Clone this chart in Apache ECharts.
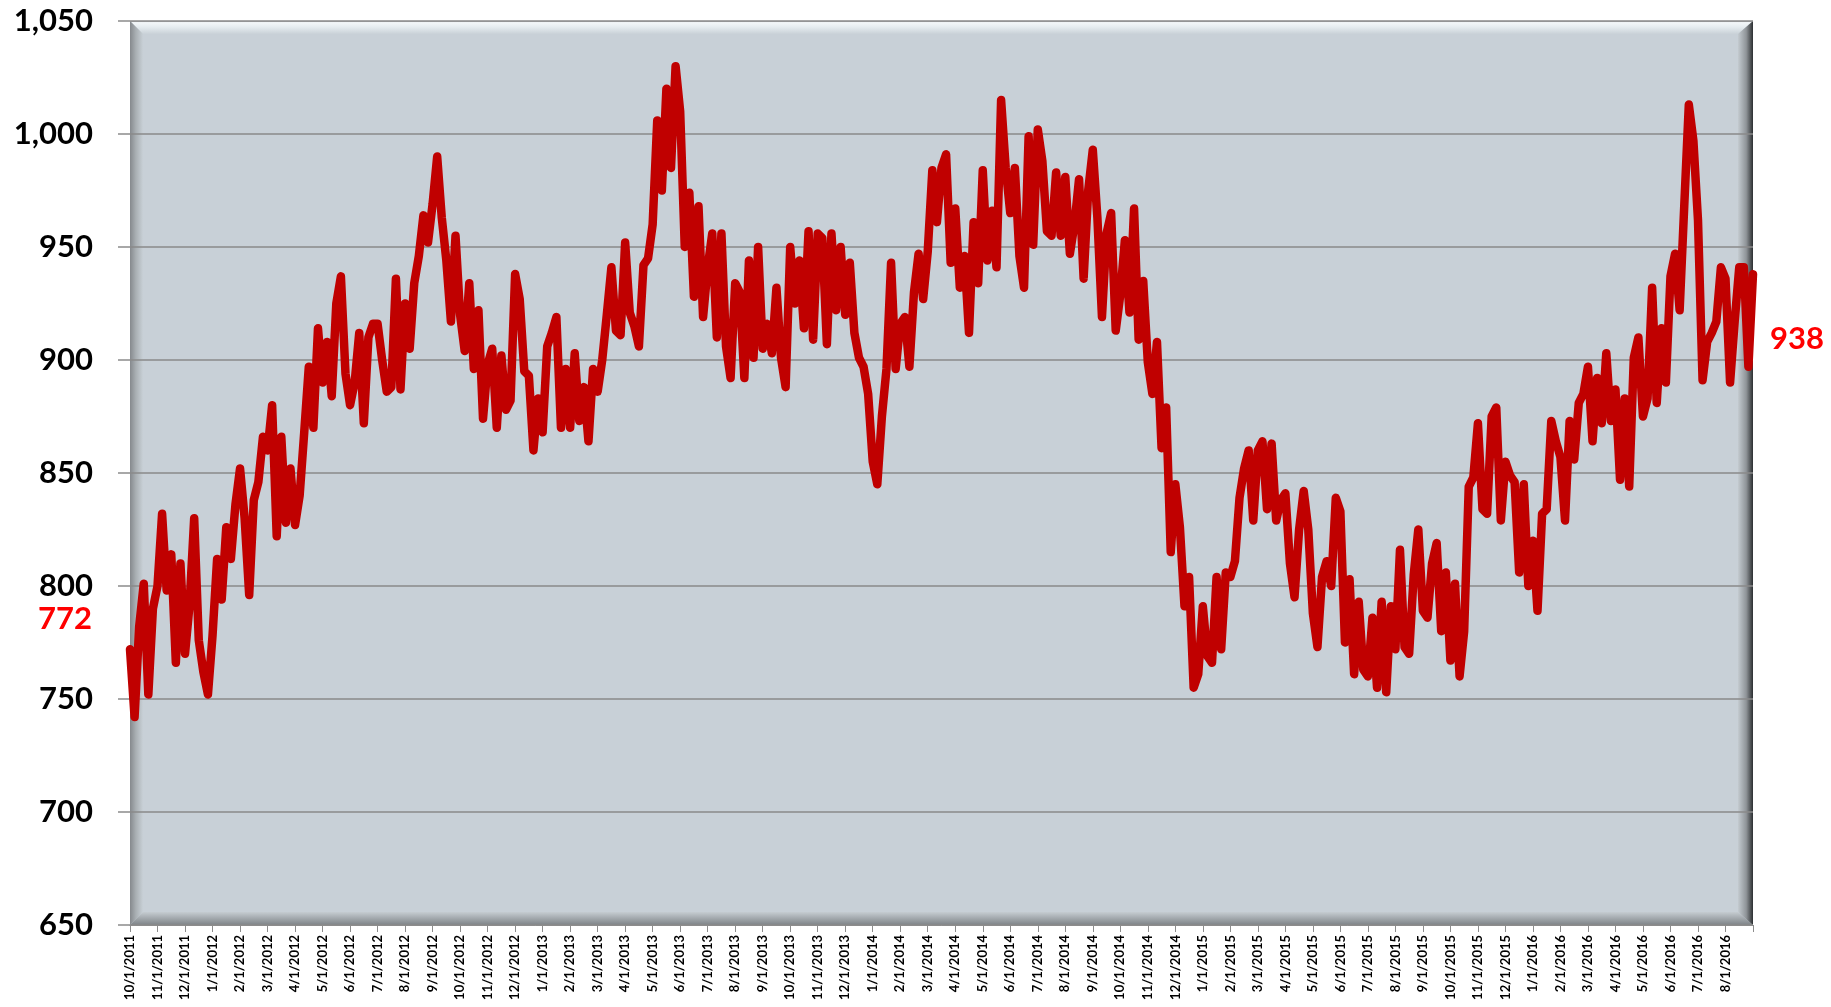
<!DOCTYPE html>
<html>
<head>
<meta charset="utf-8">
<script src="https://cdn.jsdelivr.net/npm/echarts@6/dist/echarts.min.js"></script>
<style>
  html, body { margin: 0; padding: 0; background: #fff; }
  #chart { width: 1831px; height: 1007px; }
</style>
</head>
<body>
<div id="chart"></div>
<script>
  // x axis: one unit per month starting 10/1/2011, 6 readings per month
  var perMonth = 6;

  var monthLabels = [
    '10/1/2011', '11/1/2011', '12/1/2011',
    '1/1/2012', '2/1/2012', '3/1/2012', '4/1/2012', '5/1/2012', '6/1/2012',
    '7/1/2012', '8/1/2012', '9/1/2012', '10/1/2012', '11/1/2012', '12/1/2012',
    '1/1/2013', '2/1/2013', '3/1/2013', '4/1/2013', '5/1/2013', '6/1/2013',
    '7/1/2013', '8/1/2013', '9/1/2013', '10/1/2013', '11/1/2013', '12/1/2013',
    '1/1/2014', '2/1/2014', '3/1/2014', '4/1/2014', '5/1/2014', '6/1/2014',
    '7/1/2014', '8/1/2014', '9/1/2014', '10/1/2014', '11/1/2014', '12/1/2014',
    '1/1/2015', '2/1/2015', '3/1/2015', '4/1/2015', '5/1/2015', '6/1/2015',
    '7/1/2015', '8/1/2015', '9/1/2015', '10/1/2015', '11/1/2015', '12/1/2015',
    '1/1/2016', '2/1/2016', '3/1/2016', '4/1/2016', '5/1/2016', '6/1/2016',
    '7/1/2016', '8/1/2016'
  ];

  // Oct - Dec 2011
  var v2011 = [
    772, 742, 782, 801, 752, 790,
    800, 832, 798, 814, 766, 810,
    770, 792, 830, 776, 762, 752
  ];
  // Jan - Dec 2012
  var v2012 = [
    778, 812, 794, 826, 812, 836,
    852, 830, 796, 838, 846, 866,
    860, 880, 822, 866, 828, 852,
    827, 840, 868, 897, 870, 914,
    890, 908, 884, 925, 937, 894,
    880, 890, 912, 872, 910, 916,
    916, 900, 886, 888, 936, 887,
    925, 905, 934, 946, 964, 952,
    969, 990, 963, 944, 917, 955,
    920, 904, 934, 896, 922, 874,
    898, 905, 870, 902, 878, 882,
    938, 927, 895, 893, 860, 883
  ];
  // Jan - Dec 2013
  var v2013 = [
    868, 906, 912, 919, 870, 896,
    870, 903, 873, 888, 864, 896,
    886, 900, 920, 941, 913, 911,
    952, 921, 915, 906, 942, 945,
    960, 1006, 975, 1020, 985, 1030,
    1010, 950, 974, 928, 968, 919,
    941, 956, 910, 956, 906, 892,
    934, 930, 892, 944, 901, 950,
    905, 916, 903, 932, 901, 888,
    950, 925, 944, 914, 957, 909,
    956, 954, 907, 956, 922, 950,
    920, 943, 912, 901, 897, 885
  ];
  // Jan - Dec 2014
  var v2014 = [
    855, 845, 875, 896, 943, 896,
    916, 919, 897, 930, 947, 927,
    948, 984, 961, 985, 991, 943,
    967, 932, 946, 912, 961, 934,
    984, 944, 966, 941, 1015, 985,
    965, 985, 946, 932, 999, 951,
    1002, 988, 957, 955, 983, 955,
    981, 947, 960, 980, 936, 975,
    993, 963, 919, 956, 965, 913,
    929, 953, 921, 967, 909, 935,
    899, 885, 908, 861, 879, 815,
    845, 826, 791, 804, 755, 761
  ];
  // Jan - Dec 2015
  var v2015 = [
    791, 769, 766, 804, 772, 806,
    804, 811, 839, 852, 860, 829,
    860, 864, 834, 863, 829, 838,
    841, 810, 795, 825, 842, 825,
    788, 773, 804, 811, 800, 839,
    833, 775, 803, 761, 793, 763,
    760, 786, 755, 793, 753, 791,
    772, 816, 773, 770, 805, 825,
    789, 786, 810, 819, 780, 806,
    767, 801, 760, 780, 844, 848,
    872, 834, 832, 875, 879, 829,
    855, 849, 846, 806, 845, 800
  ];
  // Jan - Aug 2016
  var v2016 = [
    820, 789, 832, 834, 873, 864,
    857, 829, 873, 856, 881, 885,
    897, 864, 892, 872, 903, 873,
    887, 847, 883, 844, 901, 910,
    875, 883, 932, 881, 914, 890,
    937, 947, 922, 968, 1013, 997,
    962, 891, 908, 912, 917, 941,
    936, 890, 917, 941, 941, 897
  ];
  var lastValue = 938;
  var firstLabel = '772', lastLabel = '938';

  var values = [].concat(v2011, v2012, v2013, v2014, v2015, v2016);
  var seriesData = values.map(function (v, i) { return [i / perMonth, v]; });
  seriesData.push([monthLabels.length, lastValue]);

  // plot frame in px (used for the bevelled plot area only)
  var L = 130, T = 21, R = 1753, B = 925, bw = 13;

  function lin(horizontal, stops) {
    return {
      type: 'linear', x: 0, y: 0, x2: horizontal ? 1 : 0, y2: horizontal ? 0 : 1,
      colorStops: stops.map(function (s) { return { offset: s[0], color: s[1] }; })
    };
  }

  var chart = echarts.init(document.getElementById('chart'));
  var option = {
    backgroundColor: '#ffffff',
    animation: false,
    grid: { left: L, right: 1831 - R, top: T, bottom: 1007 - B },
    graphic: [
      { type: 'rect', z: -5, shape: { x: L, y: T, width: R - L, height: B - T },
        style: { fill: '#c8d0d7' } },
      { type: 'polygon', z: -4, shape: { points: [[L, T], [R, T], [R - bw - 2, T + bw], [L + bw, T + bw]] },
        style: { fill: lin(false, [[0, '#8e9397'], [0.12, '#f3f7f9'], [0.45, '#e6edf0'], [1, '#c9d1d7']]) } },
      { type: 'polygon', z: -4, shape: { points: [[L, T], [L + bw, T + bw], [L + bw, B - bw], [L, B]] },
        style: { fill: lin(true, [[0, '#85898d'], [0.45, '#a9afb3'], [1, '#c8d0d6']]) } },
      { type: 'polygon', z: -4, shape: { points: [[L, B], [L + bw, B - bw], [R - bw - 2, B - bw], [R, B]] },
        style: { fill: lin(false, [[0, '#c5ccd1'], [1, '#7e8387']]) } },
      { type: 'polygon', z: -4, shape: { points: [[R, T], [R, B], [R - bw - 2, B - bw], [R - bw - 2, T + bw]] },
        style: { fill: lin(true, [[0, '#c4cbd0'], [0.55, '#8f9498'], [1, '#2c2f31']]) } },
      { type: 'text', z: 10, x: 65, y: 619,
        style: { text: firstLabel, fill: '#ff0000', font: 'bold 31px Lato', align: 'center', verticalAlign: 'middle' } },
      { type: 'text', z: 10, x: 1797, y: 339,
        style: { text: lastLabel, fill: '#ff0000', font: 'bold 31px Lato', align: 'center', verticalAlign: 'middle' } }
    ],
    xAxis: {
      type: 'value',
      min: 0,
      max: monthLabels.length,
      interval: 1,
      axisLine: { show: true, lineStyle: { color: '#8c8c8c', width: 1 } },
      axisTick: { show: true, length: 7, lineStyle: { color: '#8c8c8c' } },
      splitLine: { show: false },
      axisLabel: {
        rotate: 90,
        margin: 10,
        fontFamily: 'Lato',
        fontWeight: 'bold',
        fontSize: 13,
        color: '#000',
        formatter: function (v) { return monthLabels[v] || ''; }
      }
    },
    yAxis: {
      type: 'value',
      min: 650,
      max: 1050,
      interval: 50,
      axisLine: { show: false },
      axisTick: { show: true, length: 12, lineStyle: { color: '#8c8c8c', width: 1.5 } },
      splitLine: { show: true, lineStyle: { color: '#8a8a8a', width: 1.5 } },
      axisLabel: {
        margin: 37,
        fontFamily: 'Lato',
        fontWeight: 'bold',
        fontSize: 31,
        color: '#000',
        formatter: function (v) { return v.toLocaleString('en-US'); }
      }
    },
    series: [{
      type: 'line',
      data: seriesData,
      showSymbol: false,
      symbol: 'none',
      z: 5,
      lineStyle: { color: '#c00000', width: 8.5, join: 'round', cap: 'round' }
    }]
  };
  chart.setOption(option);
</script>
</body>
</html>
